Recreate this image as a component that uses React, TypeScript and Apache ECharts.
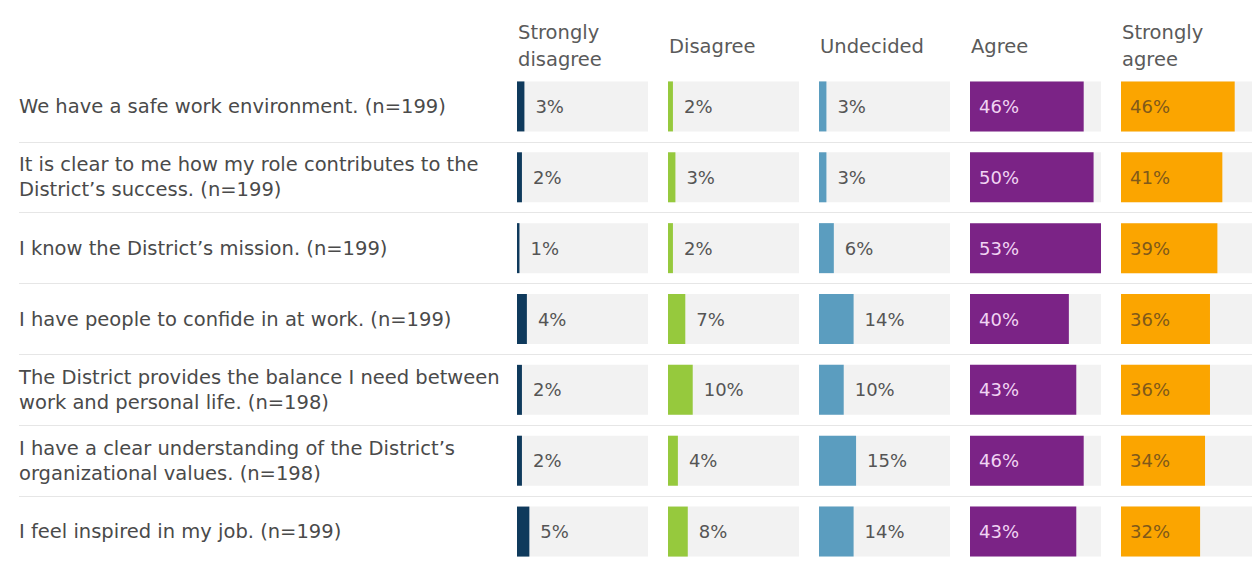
import React, { useEffect, useRef } from "react";
import * as echarts from "echarts";

const categories = [
  "We have a safe work environment. (n=199)",
  "It is clear to me how my role contributes to the\nDistrict’s success. (n=199)",
  "I know the District’s mission. (n=199)",
  "I have people to confide in at work. (n=199)",
  "The District provides the balance I need between\nwork and personal life. (n=198)",
  "I have a clear understanding of the District’s\norganizational values. (n=198)",
  "I feel inspired in my job. (n=199)",
];

const headers = ["Strongly\ndisagree", "Disagree", "Undecided", "Agree", "Strongly\nagree"];

const stronglyDisagree = [3, 2, 1, 4, 2, 2, 5];
const disagree = [2, 3, 2, 7, 10, 4, 8];
const undecided = [3, 3, 6, 14, 10, 15, 14];
const agree = [46, 50, 53, 40, 43, 46, 43];
const stronglyAgree = [46, 41, 39, 36, 36, 34, 32];

const seriesValues = [stronglyDisagree, disagree, undecided, agree, stronglyAgree];
const colors = ["#0f3a5c", "#96c93d", "#5b9dbf", "#7b2386", "#fba500"];
const labelColors = ["#555555", "#555555", "#555555", "#f1d4f3", "#80591a"];
const insideLabel = [false, false, false, true, true];

const FONT = "DejaVu Sans";
const COL_LEFT = 517;
const COL_PITCH = 151;
const COL_WIDTH = 131;
const GRID_TOP = 71;
const GRID_HEIGHT = 507;

export default function App() {
  const ref = useRef<HTMLDivElement>(null);

  useEffect(() => {
    if (!ref.current) return;
    const chart = echarts.init(ref.current, null, { renderer: "svg" });
    const maxVal = Math.max(...seriesValues.flat());

    const grids: any[] = [
      { left: 19, right: 0, top: GRID_TOP, height: GRID_HEIGHT, containLabel: false },
    ];
    const xAxes: any[] = [{ gridIndex: 0, type: "value", min: 0, max: 1, show: false }];
    const yAxes: any[] = [
      {
        gridIndex: 0,
        type: "category",
        inverse: true,
        data: categories,
        axisLine: { show: false },
        axisTick: { show: false },
        splitLine: {
          show: true,
          interval: (index: number) => index !== 0,
          lineStyle: { color: "#e6e6e6", width: 1 },
        },
        axisLabel: {
          inside: true,
          margin: 0,
          interval: 0,
          color: "#4a4a4a",
          fontSize: 19.5,
          lineHeight: 25,
          fontFamily: FONT,
        },
      },
    ];
    const series: any[] = [];

    seriesValues.forEach((vals, i) => {
      const gi = i + 1;
      grids.push({
        left: COL_LEFT + i * COL_PITCH,
        width: COL_WIDTH,
        top: GRID_TOP,
        height: GRID_HEIGHT,
      });
      xAxes.push({ gridIndex: gi, type: "value", min: 0, max: maxVal, show: false });
      yAxes.push({
        gridIndex: gi,
        type: "category",
        inverse: true,
        data: categories,
        show: false,
      });
      series.push({
        type: "bar",
        name: headers[i].replace("\n", " "),
        xAxisIndex: gi,
        yAxisIndex: gi,
        data: vals,
        barWidth: 50,
        itemStyle: { color: colors[i] },
        showBackground: true,
        backgroundStyle: { color: "#f2f2f2" },
        label: {
          show: true,
          position: insideLabel[i] ? "insideLeft" : "right",
          distance: insideLabel[i] ? 9 : 11,
          formatter: "{c}%",
          color: labelColors[i],
          fontSize: 18,
          fontFamily: FONT,
        },
      });
    });

    const graphic = headers.map((h, i) => ({
      type: "text",
      x: COL_LEFT + i * COL_PITCH + 1,
      y: 46,
      style: {
        text: h,
        fill: "#5a5a5a",
        fontSize: 19.5,
        lineHeight: 27,
        fontFamily: FONT,
        verticalAlign: "middle",
        align: "left",
      },
    }));

    chart.setOption({
      animation: false,
      backgroundColor: "#ffffff",
      grid: grids,
      xAxis: xAxes,
      yAxis: yAxes,
      series,
      graphic,
    });

    return () => chart.dispose();
  }, []);

  return (
    <div
      ref={ref}
      style={{ position: "fixed", left: 0, top: 0, width: 1252, height: 567 }}
    />
  );
}
